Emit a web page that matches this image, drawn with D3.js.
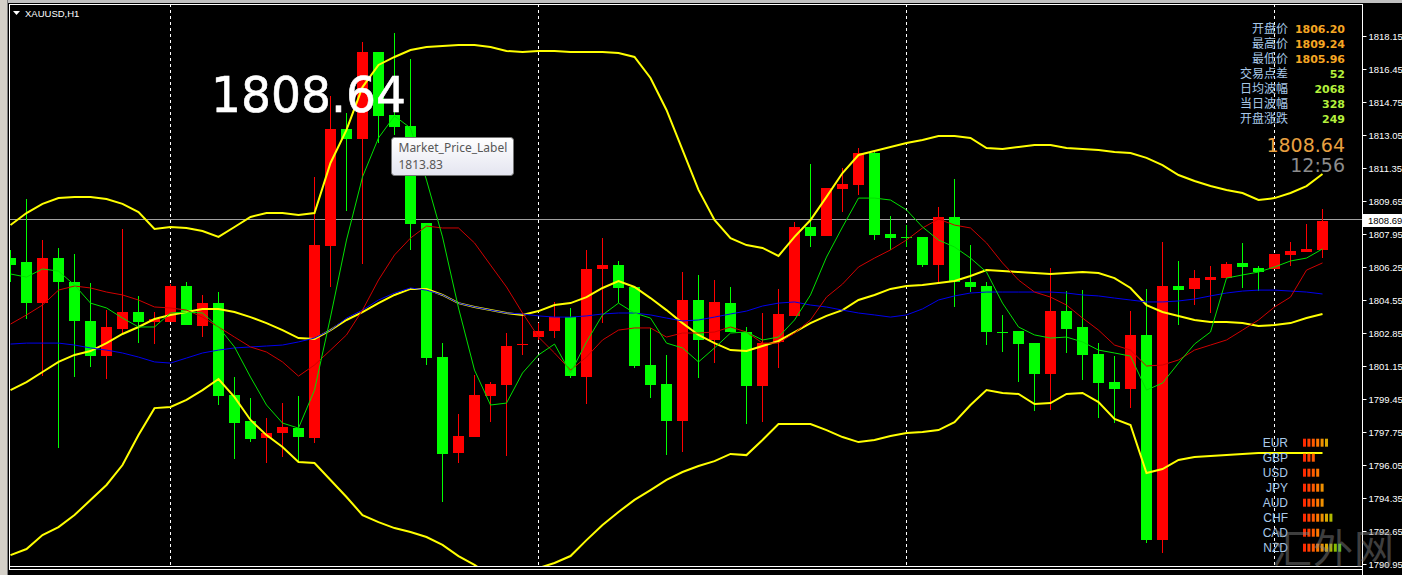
<!DOCTYPE html>
<html><head><meta charset="utf-8">
<script src="https://cdn.jsdelivr.net/npm/d3@7"></script>
<style>html,body{margin:0;padding:0;background:#000;overflow:hidden}svg{display:block}</style>
</head><body>
<svg id="chart" width="1402" height="575"></svg>
<script>
// ---------------- data (XAUUSD H1) ----------------
const opens=[1806.71,1806.51,1804.39,1806.71,1805.48,1803.47,1801.66,1803.06,1803.93,1803.42,1803.42,1805.27,1803.21,1804.39,1799.66,1798.32,1797.44,1797.70,1797.95,1797.44,1807.33,1813.36,1812.84,1817.33,1814.08,1813.51,1808.52,1801.61,1796.67,1797.49,1799.60,1800.17,1802.23,1802.64,1802.95,1803.67,1800.58,1806.15,1806.35,1805.22,1801.20,1800.22,1798.32,1804.55,1802.49,1804.39,1802.90,1800.12,1802.39,1803.73,1808.31,1807.85,1810.27,1810.47,1812.12,1807.95,1807.80,1807.80,1806.35,1808.83,1805.48,1805.27,1802.90,1802.95,1802.33,1800.74,1803.98,1803.16,1801.77,1800.32,1799.96,1802.75,1792.18,1805.27,1805.12,1805.58,1805.68,1806.46,1806.20,1806.15,1806.87,1807.02,1807.13];
const highs=[1807.13,1809.75,1807.64,1807.23,1806.92,1805.43,1804.03,1808.21,1804.76,1803.93,1805.37,1805.48,1804.81,1804.96,1800.58,1799.50,1798.47,1799.24,1799.60,1810.89,1815.06,1814.18,1817.84,1817.33,1818.31,1816.97,1808.52,1802.33,1798.68,1800.69,1800.32,1802.85,1803.88,1803.36,1804.45,1804.14,1807.13,1807.74,1806.56,1805.22,1803.11,1801.72,1805.99,1805.84,1805.58,1805.22,1803.16,1803.88,1805.12,1808.57,1811.56,1810.32,1811.35,1812.38,1812.17,1808.88,1808.41,1807.80,1809.34,1810.78,1807.38,1805.48,1803.78,1802.95,1802.33,1806.20,1805.01,1805.06,1802.33,1801.66,1803.98,1805.12,1807.54,1806.56,1806.09,1806.30,1806.51,1807.49,1806.30,1806.92,1807.54,1808.46,1809.24];
const lows=[1805.48,1803.57,1800.63,1796.92,1800.58,1801.10,1800.48,1802.80,1802.33,1802.28,1803.42,1803.26,1802.64,1799.14,1796.36,1797.23,1796.15,1796.46,1796.20,1797.18,1805.22,1809.13,1806.40,1812.64,1813.05,1807.13,1801.20,1794.14,1796.15,1797.49,1798.26,1796.51,1801.72,1802.49,1802.59,1800.53,1799.19,1803.36,1804.39,1801.05,1799.50,1796.56,1796.72,1800.53,1801.30,1802.90,1798.16,1798.26,1801.05,1803.73,1807.28,1807.85,1809.08,1809.96,1807.64,1807.13,1807.28,1806.25,1805.48,1804.19,1804.96,1802.23,1801.87,1800.32,1798.83,1798.88,1801.82,1800.43,1798.47,1798.21,1798.98,1792.03,1791.51,1803.26,1804.29,1803.88,1805.68,1805.17,1805.01,1806.15,1806.30,1807.02,1806.71];
const closes=[1806.35,1804.39,1806.71,1805.48,1803.47,1801.66,1803.16,1803.93,1803.42,1803.57,1805.27,1803.26,1804.39,1799.60,1798.21,1797.39,1797.70,1798.01,1797.49,1807.38,1813.36,1812.84,1817.33,1814.03,1813.46,1808.46,1801.56,1796.62,1797.54,1799.66,1800.22,1802.18,1802.28,1802.95,1803.67,1800.63,1806.15,1806.35,1805.17,1801.15,1800.17,1798.32,1804.55,1802.49,1804.45,1802.90,1800.12,1802.33,1803.83,1808.31,1807.85,1810.32,1810.53,1812.12,1807.90,1807.74,1807.78,1806.35,1808.83,1805.48,1805.22,1802.90,1802.88,1802.28,1800.74,1803.98,1803.06,1801.72,1800.27,1799.96,1802.75,1792.18,1805.27,1805.06,1805.68,1805.73,1806.40,1806.25,1805.99,1806.92,1807.07,1807.18,1808.64];

const bbUpper=[1808.41,1809.03,1809.50,1809.80,1809.86,1809.86,1809.75,1809.50,1809.08,1808.21,1808.31,1808.26,1808.10,1807.80,1808.31,1808.83,1809.03,1809.03,1808.93,1809.03,1811.61,1813.31,1815.52,1816.66,1817.07,1817.43,1817.58,1817.64,1817.69,1817.69,1817.58,1817.38,1817.33,1817.38,1817.38,1817.33,1817.33,1817.33,1817.27,1817.07,1815.99,1814.34,1812.28,1810.22,1808.67,1807.74,1807.38,1807.23,1806.82,1807.80,1808.67,1809.86,1811.09,1812.02,1812.23,1812.43,1812.64,1812.79,1813.00,1813.00,1812.90,1812.38,1812.33,1812.43,1812.54,1812.54,1812.38,1812.33,1812.28,1812.17,1812.12,1811.87,1811.50,1810.99,1810.68,1810.42,1810.22,1810.06,1809.70,1809.80,1810.06,1810.42,1811.04];
const bbMiddle=[1799.91,1800.32,1800.84,1801.36,1801.72,1801.92,1802.33,1802.80,1803.16,1803.57,1803.78,1803.93,1804.09,1804.09,1803.93,1803.67,1803.36,1803.00,1802.59,1802.54,1803.00,1803.52,1803.93,1804.39,1804.81,1805.12,1805.12,1804.81,1804.39,1804.19,1804.03,1803.88,1803.78,1803.98,1804.29,1804.39,1804.70,1805.17,1805.53,1805.22,1804.65,1804.03,1803.36,1802.75,1802.33,1801.97,1801.92,1802.18,1802.44,1802.90,1803.36,1803.73,1804.03,1804.55,1804.81,1805.12,1805.27,1805.32,1805.43,1805.53,1805.79,1806.09,1806.04,1805.99,1805.94,1805.89,1805.94,1805.99,1805.94,1805.68,1805.17,1804.29,1803.93,1803.73,1803.52,1803.42,1803.42,1803.36,1803.21,1803.26,1803.36,1803.62,1803.83];
const bbLower=[1791.41,1791.72,1792.44,1792.85,1793.47,1794.25,1795.02,1796.05,1797.59,1798.98,1799.04,1799.40,1799.91,1800.48,1799.55,1798.37,1797.59,1796.98,1796.20,1796.15,1795.28,1794.40,1793.47,1793.11,1792.80,1792.60,1792.34,1791.93,1791.36,1790.90,1790.38,1790.02,1790.12,1790.74,1791.00,1791.36,1792.18,1792.96,1793.63,1794.25,1794.76,1795.28,1795.69,1796.00,1796.25,1796.62,1796.56,1797.34,1798.16,1798.16,1798.16,1797.85,1797.49,1797.23,1797.34,1797.54,1797.70,1797.75,1797.85,1798.26,1799.14,1799.91,1799.76,1799.71,1799.19,1799.24,1799.71,1799.76,1799.29,1798.42,1798.11,1795.64,1795.84,1796.31,1796.46,1796.51,1796.56,1796.62,1796.67,1796.67,1796.67,1796.67,1796.67];
const maBlue=[1802.28,1802.33,1802.33,1802.33,1802.23,1802.08,1801.97,1801.82,1801.61,1801.36,1801.30,1801.56,1801.82,1801.97,1802.08,1802.13,1802.18,1802.23,1802.39,1802.59,1803.00,1803.62,1804.03,1804.55,1804.91,1805.17,1805.06,1804.81,1804.39,1804.19,1804.03,1803.88,1803.83,1803.73,1803.67,1803.67,1803.73,1803.83,1803.88,1803.88,1803.78,1803.62,1803.47,1803.52,1803.67,1803.83,1803.98,1804.24,1804.39,1804.45,1804.29,1804.19,1804.03,1803.88,1803.78,1803.67,1803.78,1804.09,1804.55,1804.76,1804.91,1804.96,1804.96,1804.96,1804.96,1804.96,1804.91,1804.81,1804.76,1804.65,1804.55,1804.45,1804.45,1804.50,1804.60,1804.76,1804.91,1805.01,1805.06,1805.06,1805.01,1804.96,1804.86];
const maRed=[1803.31,1803.78,1804.29,1805.06,1805.27,1805.17,1804.96,1804.81,1804.55,1804.19,1804.14,1804.03,1803.67,1803.16,1802.64,1802.13,1801.87,1801.36,1800.63,1801.20,1801.97,1802.75,1804.03,1805.58,1806.87,1807.74,1808.36,1808.26,1808.26,1807.49,1806.35,1805.22,1803.88,1802.64,1801.82,1800.94,1801.61,1802.49,1803.00,1803.11,1803.11,1802.64,1802.85,1802.85,1802.90,1803.16,1802.90,1802.33,1802.33,1802.85,1803.52,1804.70,1805.37,1806.25,1806.71,1807.13,1807.64,1808.26,1808.72,1808.41,1808.26,1807.49,1806.46,1805.58,1804.96,1804.70,1804.29,1803.62,1803.00,1802.23,1801.97,1801.15,1801.20,1801.46,1801.97,1802.23,1802.49,1803.00,1803.52,1804.19,1804.70,1806.09,1806.46];
const maGreen=[1805.89,1805.73,1806.15,1806.04,1805.32,1804.39,1804.14,1803.62,1803.16,1803.16,1803.88,1803.93,1803.88,1803.16,1802.13,1800.58,1799.14,1798.21,1797.95,1799.91,1803.67,1807.64,1810.89,1812.90,1814.03,1813.41,1810.73,1807.80,1804.14,1800.94,1799.14,1799.24,1800.79,1801.72,1802.28,1800.79,1802.39,1803.78,1804.39,1803.88,1803.62,1802.33,1802.08,1801.36,1802.08,1802.85,1802.90,1802.49,1802.64,1803.52,1804.81,1806.76,1808.31,1809.80,1809.80,1809.70,1809.19,1808.31,1807.64,1807.28,1806.71,1805.99,1804.39,1803.16,1802.75,1802.59,1802.64,1802.39,1801.97,1801.82,1801.66,1799.91,1800.27,1801.30,1802.28,1802.90,1805.68,1805.84,1805.99,1806.25,1806.56,1806.71,1807.18];

const priceTicks=[1818.15,1816.45,1814.75,1813.05,1811.35,1809.65,1807.95,1806.25,1804.55,1802.85,1801.15,1799.45,1797.75,1796.05,1794.35,1792.65,1790.95];
const daySeparators=[10,33,56,79];
const bidPrice=1808.69;
const symbolLabel="XAUUSD,H1";
const tooltipTitle="Market_Price_Label";
const tooltipValue="1813.83";
const infoLabels=["开盘价","最高价","最低价","交易点差","日均波幅","当日波幅","开盘涨跌"];
const infoValues=["1806.20","1809.24","1805.96","52","2068","328","249"];
const clockText="12:56";
const currencies=["EUR","GBP","USD","JPY","AUD","CHF","CAD","NZD"];
const currencyStrength=[6,3,4,5,5,7,4,9];
const watermark="汇外网";

// ---------------- layout ----------------
const svg=d3.select("#chart");
const plot={l:9,t:4,r:1362,b:567};
const x=d3.scaleLinear().domain([0,closes.length-1]).range([10.5,1322.5]);
const y=d3.scaleLinear().domain([1790.95,1818.15]).range([564,36]);

svg.append("rect").attr("width",1402).attr("height",575).attr("fill","#000");
// window chrome
svg.append("rect").attr("x",0).attr("y",0).attr("width",1402).attr("height",3).attr("fill","#c0c0c0");
svg.append("rect").attr("x",0).attr("y",0).attr("width",7).attr("height",575).attr("fill","#d4d0c8");
svg.append("line").attr("x1",7.5).attr("x2",7.5).attr("y1",0).attr("y2",575).attr("stroke","#808080");

const defs=svg.append("defs");
defs.append("clipPath").attr("id","plotclip").append("rect")
  .attr("x",plot.l+1).attr("y",plot.t+1).attr("width",plot.r-plot.l-1).attr("height",plot.b-plot.t-2);
const tg=defs.append("linearGradient").attr("id","tipgrad").attr("x1",0).attr("x2",0).attr("y1",0).attr("y2",1);
tg.append("stop").attr("offset","0%").attr("stop-color","#ffffff");
tg.append("stop").attr("offset","100%").attr("stop-color","#e4e5f0");

const g=svg.append("g").attr("clip-path","url(#plotclip)");

// day separators
g.selectAll("line.sep").data(daySeparators).join("line").attr("class","sep")
  .attr("x1",d=>Math.floor(x(d))+0.5).attr("x2",d=>Math.floor(x(d))+0.5)
  .attr("y1",plot.t).attr("y2",plot.b)
  .attr("stroke","#fff").attr("stroke-width",1).attr("stroke-dasharray","3,3");

// bid line
g.append("line").attr("x1",plot.l).attr("x2",plot.r)
  .attr("y1",Math.floor(y(bidPrice))+0.5).attr("y2",Math.floor(y(bidPrice))+0.5)
  .attr("stroke","#a0a0a0").attr("stroke-width",1);

// candles
const idx=d3.range(closes.length);
const col=i=>closes[i]>=opens[i]?"#ff0000":"#00ff00";
const cg=g.append("g").attr("shape-rendering","crispEdges");
cg.selectAll("line.wick").data(idx).join("line").attr("class","wick")
  .attr("x1",i=>Math.floor(x(i))+0.5).attr("x2",i=>Math.floor(x(i))+0.5)
  .attr("y1",i=>y(highs[i])).attr("y2",i=>y(lows[i]))
  .attr("stroke",col).attr("stroke-width",1);
cg.selectAll("rect.body").data(idx).join("rect").attr("class","body")
  .attr("x",i=>Math.floor(x(i))-5).attr("width",11)
  .attr("y",i=>y(Math.max(opens[i],closes[i])))
  .attr("height",i=>Math.max(1,Math.abs(y(opens[i])-y(closes[i]))))
  .attr("fill",col);

// indicator lines
const line=d3.line().x((d,i)=>x(i)).y(d=>y(d));
const lines=[
  {data:bbUpper,color:"#ffff00",w:2},
  {data:bbLower,color:"#ffff00",w:2},
  {data:bbMiddle,color:"#ffff00",w:2},
  {data:maBlue,color:"#0000ee",w:1},
  {data:maRed,color:"#d00000",w:1},
  {data:maGreen,color:"#00e000",w:1}
];
g.selectAll("path.ind").data(lines).join("path").attr("class","ind")
  .attr("d",d=>line(d.data)).attr("fill","none")
  .attr("stroke",d=>d.color).attr("stroke-width",d=>d.w);

// frame
const fr=svg.append("g").attr("stroke","#fff").attr("stroke-width",1).attr("shape-rendering","crispEdges");
fr.append("line").attr("x1",plot.l).attr("x2",plot.r).attr("y1",plot.t+0.5).attr("y2",plot.t+0.5);
fr.append("line").attr("x1",plot.l+0.5).attr("x2",plot.l+0.5).attr("y1",plot.t).attr("y2",plot.b+3);
fr.append("line").attr("x1",plot.r+0.5).attr("x2",plot.r+0.5).attr("y1",plot.t).attr("y2",575);
fr.append("line").attr("x1",plot.l).attr("x2",plot.r).attr("y1",plot.b-0.5).attr("y2",plot.b-0.5);
fr.append("line").attr("x1",plot.l).attr("x2",plot.r).attr("y1",plot.b+2.5).attr("y2",plot.b+2.5);

// price axis
const ax=svg.append("g").attr("transform",`translate(${plot.r+0.5},0)`)
  .call(d3.axisRight(y).tickValues(priceTicks).tickSize(4).tickPadding(2).tickFormat(d3.format(".2f")));
ax.select(".domain").remove();
ax.selectAll("line").attr("stroke","#fff");
ax.selectAll("text").attr("fill","#fff").style("font-family","'Liberation Sans',Arial,sans-serif").style("font-size","9.5px");

// bid box on axis
const by=y(bidPrice);
svg.append("rect").attr("x",plot.r+1).attr("y",Math.round(by)-6).attr("width",40).attr("height",13).attr("fill","#fff");
svg.append("text").attr("x",plot.r+6).attr("y",Math.round(by)+4).text(d3.format(".2f")(bidPrice))
  .attr("fill","#000").style("font-family","'Liberation Sans',Arial,sans-serif").style("font-size","9.5px");

// symbol label
svg.append("path").attr("d","M13,11 L20,11 L16.5,15 Z").attr("fill","#fff");
svg.append("text").attr("x",25).attr("y",16.5).text(symbolLabel).attr("fill","#fff")
  .style("font-family","'Liberation Sans',Arial,sans-serif").style("font-size","9.5px");

// big price
svg.append("text").attr("x",211).attr("y",112).text(d3.format(".2f")(closes[closes.length-1]))
  .attr("fill","#fff").attr("stroke","#fff").attr("stroke-width",0.6)
  .attr("textLength",195).attr("lengthAdjust","spacingAndGlyphs")
  .style("font-family","'DejaVu Sans',sans-serif").style("font-size","50px");

// tooltip
const tip=svg.append("g").attr("transform","translate(391.5,137.5)");
tip.append("rect").attr("width",122).attr("height",38).attr("rx",3).attr("fill","url(#tipgrad)").attr("stroke","#767676");
tip.append("text").attr("x",7).attr("y",14.5).text(tooltipTitle).attr("fill","#575757")
  .style("font-family","'Noto Sans','Liberation Sans',sans-serif").style("font-size","12px");
tip.append("text").attr("x",7).attr("y",31.5).text(tooltipValue).attr("fill","#575757")
  .style("font-family","'Noto Sans','Liberation Sans',sans-serif").style("font-size","12px");

// info panel
const info=svg.append("g");
info.selectAll("text.lab").data(infoLabels).join("text").attr("class","lab")
  .attr("x",1288).attr("y",(d,i)=>32.5+i*15).attr("text-anchor","end").text(d=>d)
  .attr("fill","#a8c8e8").style("font-family","'Noto Sans CJK SC',sans-serif").style("font-size","12px");
info.selectAll("text.val").data(infoValues).join("text").attr("class","val")
  .attr("x",1345).attr("y",(d,i)=>32.5+i*15).attr("text-anchor","end").text(d=>d)
  .attr("fill",(d,i)=>i<3?"#f5a623":"#b4f03c").style("font-family","'DejaVu Sans',sans-serif")
  .style("font-size","11px").style("font-weight","bold");
svg.append("text").attr("x",1345).attr("y",151.5).attr("text-anchor","end")
  .text(d3.format(".2f")(closes[closes.length-1])).attr("fill","#e8a040")
  .style("font-family","'DejaVu Sans',sans-serif").style("font-size","19px");
svg.append("text").attr("x",1345).attr("y",171.5).attr("text-anchor","end").text(clockText).attr("fill","#8c8c8c")
  .style("font-family","'DejaVu Sans',sans-serif").style("font-size","19px");

// currency strength panel
const barColors=["#ff2a00","#ff4000","#ff5a00","#ff7800","#f09000","#d8a800","#b0b800","#88c000","#50d010"];
const cp=svg.append("g");
currencies.forEach((c,i)=>{
  const cy=442.7+i*15;
  cp.append("text").attr("x",1288).attr("y",cy+4.5).attr("text-anchor","end").text(c).attr("fill","#a8c8e8")
    .style("font-family","'Liberation Sans',Arial,sans-serif").style("font-size","12px");
  cp.selectAll(null).data(d3.range(currencyStrength[i])).join("rect")
    .attr("x",k=>1303+k*4.4).attr("y",cy-4).attr("width",3).attr("height",8).attr("fill",k=>barColors[k]);
});

// watermark
svg.append("text").attr("x",1272).attr("y",563).text(watermark).attr("fill","#8a8a8a").attr("opacity",0.45)
  .style("font-family","'Noto Sans CJK SC',sans-serif").style("font-size","40px").style("letter-spacing","1px");
</script>
</body></html>
